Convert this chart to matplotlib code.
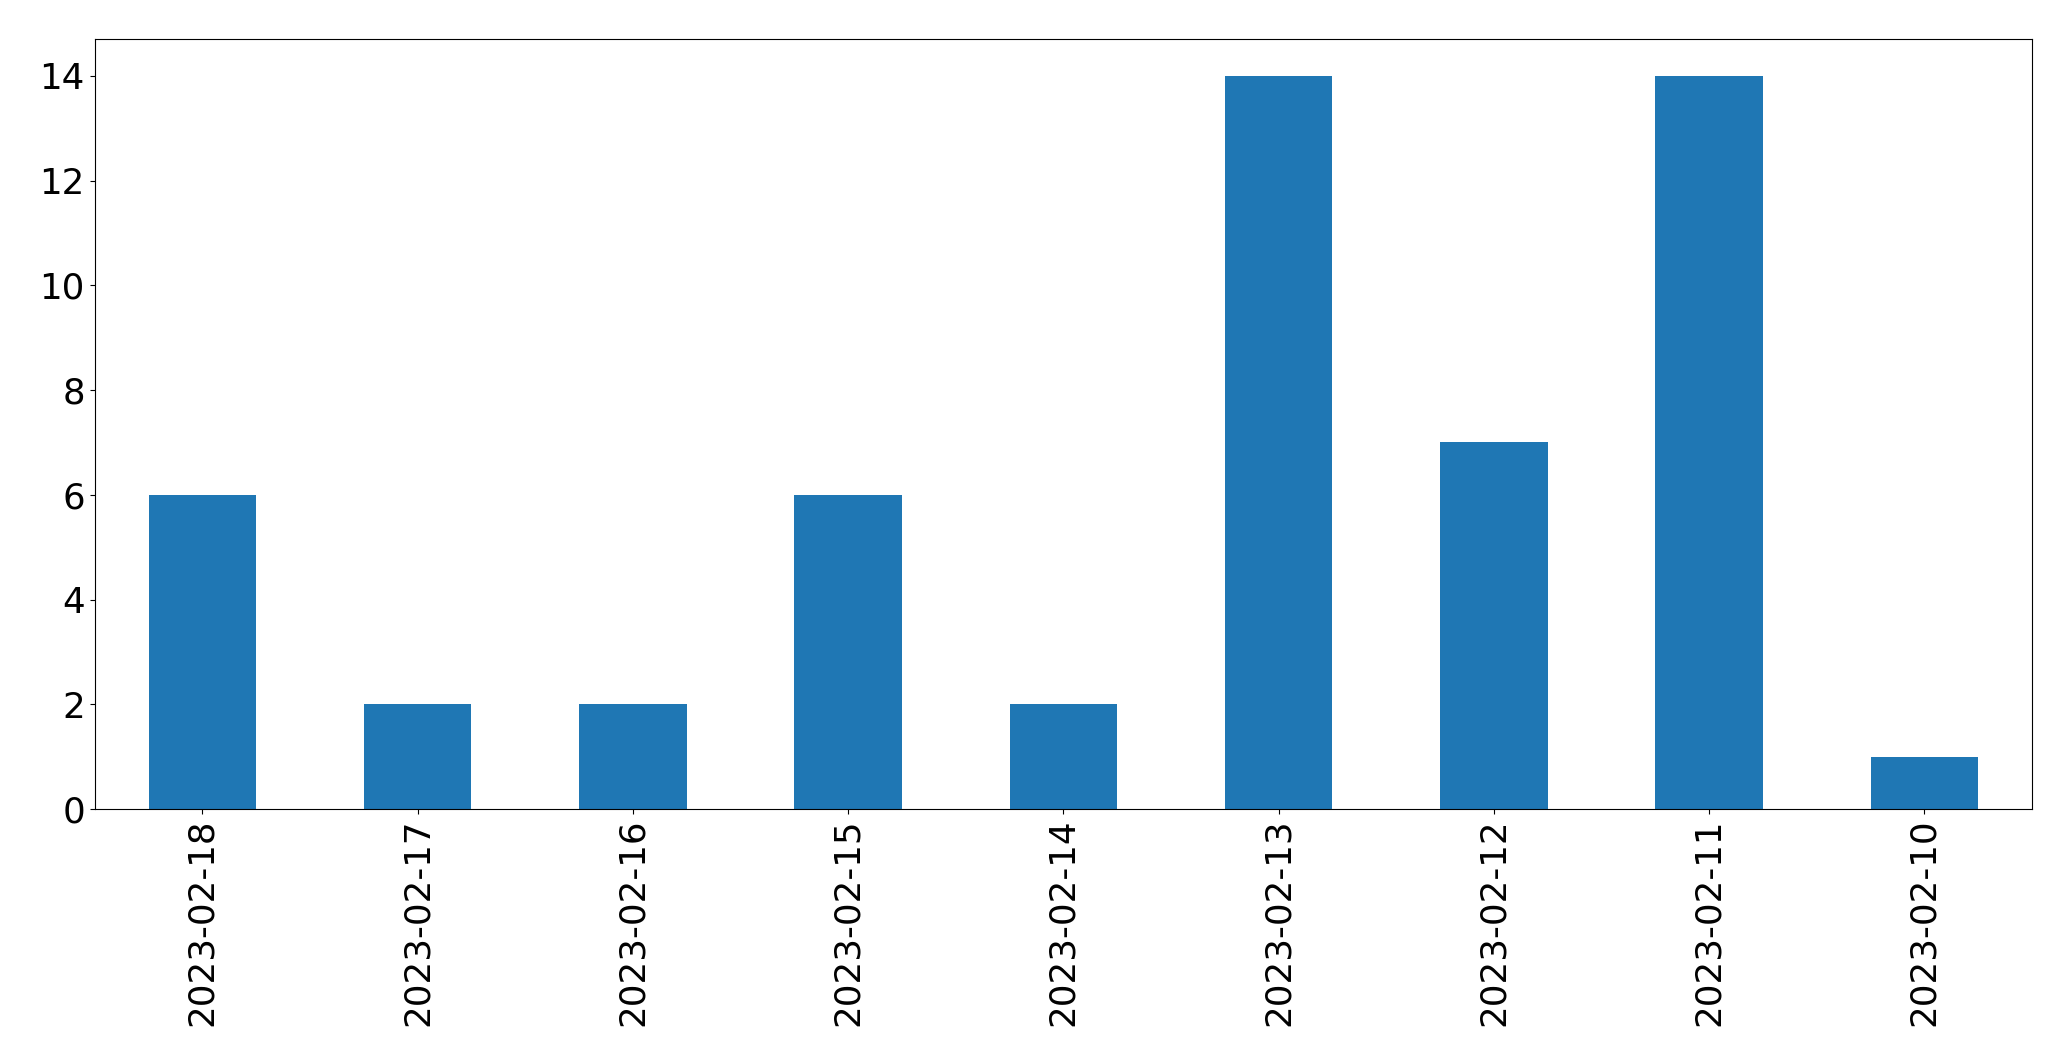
import pandas as pd
import matplotlib
matplotlib.use('Agg')
import matplotlib.pyplot as plt

# 每日计数
dates = ['2023-02-18', '2023-02-17', '2023-02-16', '2023-02-15', '2023-02-14',
         '2023-02-13', '2023-02-12', '2023-02-11', '2023-02-10']
counts = [6, 2, 2, 6, 2, 14, 7, 14, 1]

s = pd.Series(counts, index=dates)

fig = plt.figure(figsize=(20.71, 10.61), dpi=100)
ax = fig.add_axes([94.7 / 2071, 1 - 809 / 1061, (2032 - 94.7) / 2071, (809 - 39.3) / 1061])
s.plot(kind='bar', ax=ax, color='#1f77b4')
ax.tick_params(axis='both', labelsize=25.7)
fig.savefig('out.png', dpi=100)
